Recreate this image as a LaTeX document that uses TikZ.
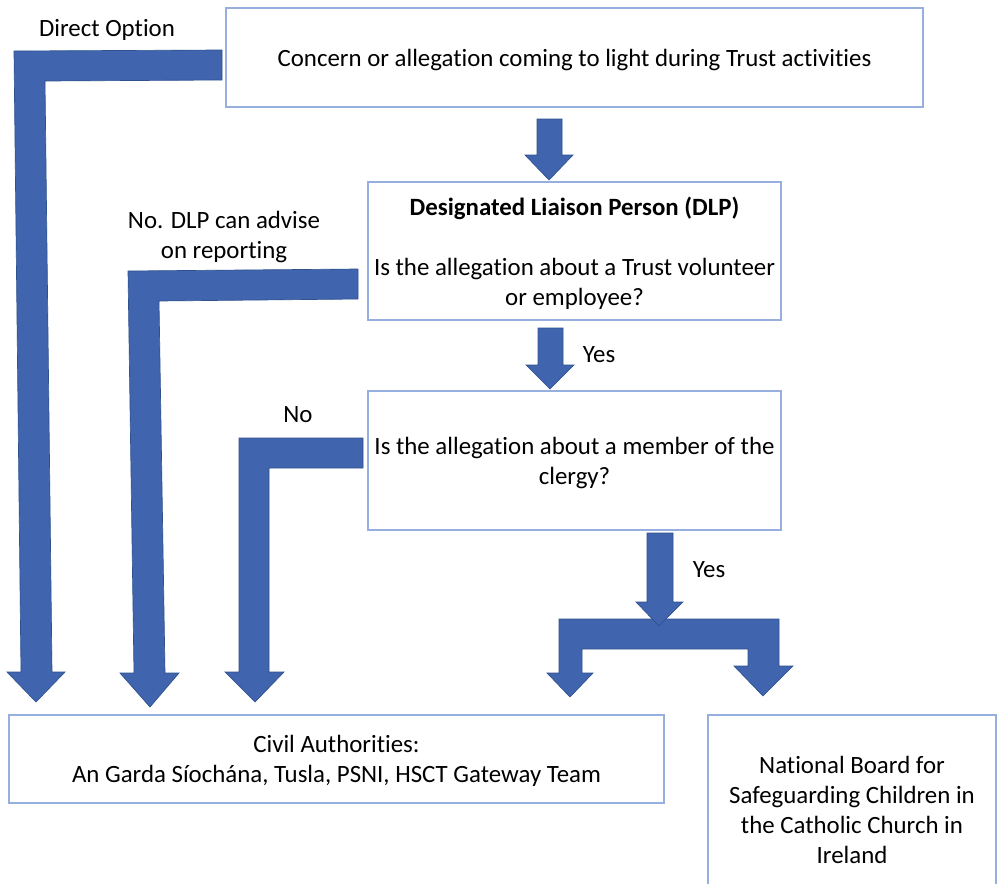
\documentclass[tikz,border=0pt]{standalone}
\usepackage{fontspec}
\setmainfont[Ligatures=NoCommon]{Carlito}
\definecolor{arrowblue}{RGB}{64,100,173}
\definecolor{arrowedge}{RGB}{47,82,143}
\definecolor{boxedge}{RGB}{150,175,222}
\begin{document}
\begin{tikzpicture}[x=0.75pt,y=-0.75pt,
  box/.style={draw=boxedge,line width=0.8pt,fill=white,inner sep=0pt},
  lbl/.style={align=center,inner sep=0pt,font=\fontsize{18.65}{22.5}\selectfont},
  blockarrow/.style={fill=arrowblue,draw=arrowedge,line width=0.5pt,line join=miter}]
\useasboundingbox (0,0) rectangle (999,883);
\clip (0,0) rectangle (999,883);
\fill[white] (0,0) rectangle (999,883);

% boxes
\node[box,minimum width=697*0.75pt,minimum height=99*0.75pt] (concern) at (574.5,57.5) {};
\node[lbl] (concernt) at ([yshift=-1.8pt]concern.center)
  {Concern or allegation coming to light during Trust activities};
\node[box,minimum width=413*0.75pt,minimum height=138*0.75pt] (dlp) at (574.5,251) {};
\node[lbl] (dlpt) at ([yshift=-1.5pt]dlp.center)
  {\textbf{Designated Liaison Person (DLP)}\\[22.5pt]Is the allegation about a Trust volunteer\\or employee?};
\node[box,minimum width=413*0.75pt,minimum height=139*0.75pt] (clergy) at (574.5,460.5) {};
\node[lbl] (clergyt) at ([yshift=-1.5pt]clergy.center)
  {Is the allegation about a member of the\\clergy?};
\node[box,minimum width=655*0.75pt,minimum height=88*0.75pt] (civil) at (336.5,759) {};
\node[lbl] (civilt) at ([yshift=-1.5pt]civil.center)
  {Civil Authorities:\\An Garda Síochána, Tusla, PSNI, HSCT Gateway Team};
\node[box,minimum width=288*0.75pt,minimum height=185*0.75pt] (board) at (852,807.5) {};
\node[lbl] (boardt) at ([yshift=-1.5pt]board.center)
  {National Board for\\Safeguarding Children in\\the Catholic Church in\\Ireland};

% labels
\node[lbl] (ldirect) at (107,30) {Direct Option};
\node[lbl] (ldlp) at (224,237) {No. DLP can advise\\on reporting};
\node[lbl] (lno) at (298,415) {No};
\node[lbl] (lyes1) at (599,355) {Yes};
\node[lbl] (lyes2) at (709,570) {Yes};

% bent arrows to civil authorities
\draw[blockarrow] (222,50) -- (222,80) -- (45,81) -- (52,672) -- (65,672) -- (36,702) -- (7,672) -- (21,672) -- (14,51) -- cycle;
\draw[blockarrow] (358,269) -- (358,299) -- (159,301) -- (165,673) -- (179,673) -- (150,707) -- (120,673) -- (134,673) -- (128,271) -- cycle;
\draw[blockarrow] (363,438) -- (363,468) -- (269,468) -- (269,672) -- (284,672) -- (255,702) -- (225,672) -- (239,672) -- (239,438) -- cycle;

% straight down arrows
\draw[blockarrow] (537,119) -- (562,119) -- (562,155) -- (573,155) -- (549,180) -- (525,155) -- (537,155) -- cycle;
\draw[blockarrow] (538,328) -- (563,328) -- (563,365) -- (574,365) -- (550,389) -- (526,365) -- (538,365) -- cycle;

% split arrow
\draw[blockarrow] (559,619) -- (779,619) -- (779,666) -- (793,666) -- (763,696) -- (734,666) -- (748,666) -- (748,649) -- (582,649) -- (582,673) -- (593,673) -- (570,697) -- (547,673) -- (559,673) -- cycle;
\draw[blockarrow] (647,533) -- (673,533) -- (673,602) -- (683,602) -- (659,626) -- (636,602) -- (647,602) -- cycle;
\end{tikzpicture}
\end{document}
